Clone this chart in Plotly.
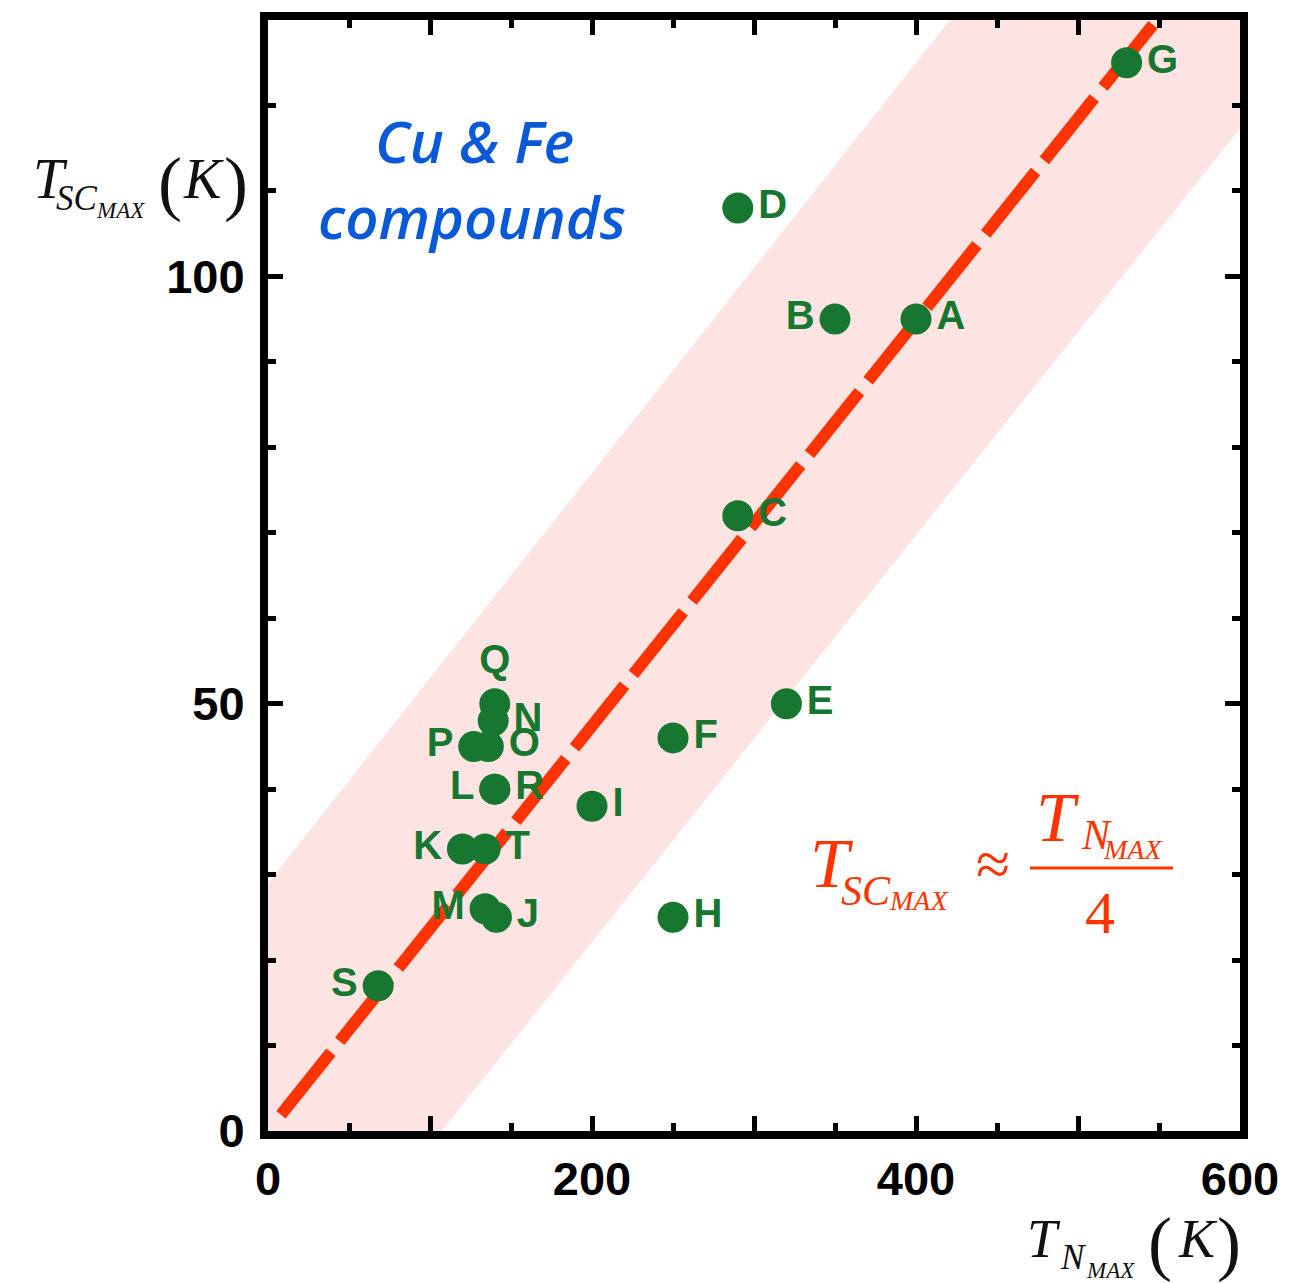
import plotly.graph_objects as go

# ---------------- data ----------------
labels = ['A', 'B', 'C', 'D', 'E', 'F', 'G', 'H', 'I', 'J',
          'K', 'L', 'R', 'M', 'N', 'O', 'P', 'Q', 'S', 'T']
tn_max = [400, 350, 290, 290, 320, 250, 530, 250, 200, 141,
          120, 140, 140, 134, 139, 136, 127, 140, 68, 134]
tsc_max = [95, 95, 72, 108, 50, 46, 125, 25, 38, 25,
           33, 40, 40, 26, 48, 45, 45, 50, 17, 33]

# where each point's label sits relative to its marker
label_side = {'A': 'middle right', 'B': 'middle left', 'C': 'middle right', 'D': 'middle right',
              'E': 'middle right', 'F': 'middle right', 'G': 'middle right', 'H': 'middle right',
              'I': 'middle right', 'J': 'middle right', 'K': 'middle left', 'L': 'middle left',
              'R': 'middle right', 'M': 'middle left', 'N': 'middle right', 'O': 'middle right',
              'P': 'middle left', 'Q': 'top center', 'S': 'middle left', 'T': 'middle right'}

# T_SC ≈ T_N / 4 guide line and its shaded band
fit_x = [8, 560]
fit_y = [1.9, 132.7]
band_x = [0, 600, 600, 0]
band_y = [29, 173, 117.3, -25.5]

x_ticks = [0, 100, 200, 300, 400, 500, 600]
x_ticktext = ['0', '', '200', '', '400', '', '600']
x_minor = [50, 150, 250, 350, 450, 550]
y_ticks = [0, 50, 100]
y_minor = [10, 20, 30, 40, 60, 70, 80, 90, 110, 120]

GREEN = '#17762f'
RED = '#ff3300'
BLUE = '#0a5ad8'
SERIF = 'Liberation Serif, Times New Roman, serif'
SANS = 'Liberation Sans, Arial, sans-serif'

fig = go.Figure()

fig.add_trace(go.Scatter(
    x=band_x, y=band_y, fill='toself', mode='lines',
    line=dict(width=0), fillcolor='#fde4e3', hoverinfo='skip', showlegend=False))

fig.add_trace(go.Scatter(
    x=fit_x, y=fit_y, mode='lines',
    line=dict(color=RED, width=12, dash='80px,14px'), hoverinfo='skip', showlegend=False))

fig.add_trace(go.Scatter(
    x=tn_max, y=tsc_max, mode='markers+text', text=labels,
    textposition=[label_side[l] for l in labels],
    textfont=dict(family=SANS, size=40, color=GREEN, weight='bold'),
    marker=dict(size=31, color=GREEN), showlegend=False))

# ---------------- layout ----------------
L_PX, R_PX, T_PX, B_PX = 268, 1240, 12, 1131


def pp(xp, yp):
    return (xp - L_PX) / (R_PX - L_PX), (B_PX - yp) / (B_PX - T_PX)


def txt(text, xp, yp, size, color='#111111', family=SERIF, italic=True, weight='normal'):
    x, y = pp(xp, yp)
    t = f'<i>{text}</i>' if italic else text
    fig.add_annotation(x=x, y=y, xref='paper', yref='paper', text=t, showarrow=False,
                       xanchor='center', yanchor='middle',
                       font=dict(family=family, size=size, color=color, weight=weight))


# y-axis title
txt('T', 50, 172, 56)
txt('SC', 77, 192, 35)
txt('MAX', 120, 204, 23)
txt('(', 170, 176, 72, italic=False)
txt('K', 203, 172, 56)
txt(')', 236, 176, 72, italic=False)

# x-axis title
txt('T', 1044, 1240, 54)
txt('N', 1073, 1258, 35)
txt('MAX', 1110, 1272, 23)
txt('(', 1160, 1244, 72, italic=False)
txt('K', 1198, 1240, 54)
txt(')', 1229, 1244, 72, italic=False)

# formula
txt('T', 832, 862, 70, RED)
txt('SC', 866, 889, 42, RED)
txt('MAX', 918, 899, 28, RED)
txt('≈', 993, 862, 62, RED, italic=False)
txt('T', 1058, 815, 70, RED)
txt('N', 1096, 833, 42, RED)
txt('MAX', 1132, 847, 28, RED)
txt('4', 1100, 911, 60, RED, italic=False)
fx0, fy = pp(1030, 866)
fx1, _ = pp(1173, 866)
fig.add_shape(type='line', xref='paper', yref='paper', x0=fx0, x1=fx1, y0=fy, y1=fy,
              line=dict(color=RED, width=3))

# blue caption
CAP_FONT = 'Open Sans, Noto Sans, sans-serif'
txt('Cu &amp; Fe', 474, 133, 58, BLUE, family=CAP_FONT, weight=600)
txt('compounds', 472, 210, 58, BLUE, family=CAP_FONT, weight=600)

axis_common = dict(
    showgrid=False, zeroline=False, showline=True, linecolor='black', linewidth=8,
    mirror='allticks', ticks='inside', ticklen=15, tickwidth=5, tickcolor='black',
    tickfont=dict(family=SANS, size=47, color='black', weight='bold'),
)

fig.update_layout(
    width=1297, height=1283,
    margin=dict(l=L_PX, r=1297 - R_PX, t=T_PX, b=1283 - B_PX),
    plot_bgcolor='white', paper_bgcolor='white',
    xaxis=dict(range=[0, 600], tickmode='array', tickvals=x_ticks, ticktext=x_ticktext,
               minor=dict(tickmode='array', tickvals=x_minor, ticks='inside', ticklen=8,
                          tickwidth=5, tickcolor='black'),
               ticklabelstandoff=0, **axis_common),
    yaxis=dict(range=[0, 130], tickmode='array', tickvals=y_ticks,
               ticktext=[str(v) for v in y_ticks],
               minor=dict(tickmode='array', tickvals=y_minor, ticks='inside', ticklen=8,
                          tickwidth=5, tickcolor='black'),
               ticklabelstandoff=6, **axis_common),
)

fig.write_html('out.html', config={'displayModeBar': False},
               post_script="document.body.style.margin='0';document.body.style.overflow='hidden';")
